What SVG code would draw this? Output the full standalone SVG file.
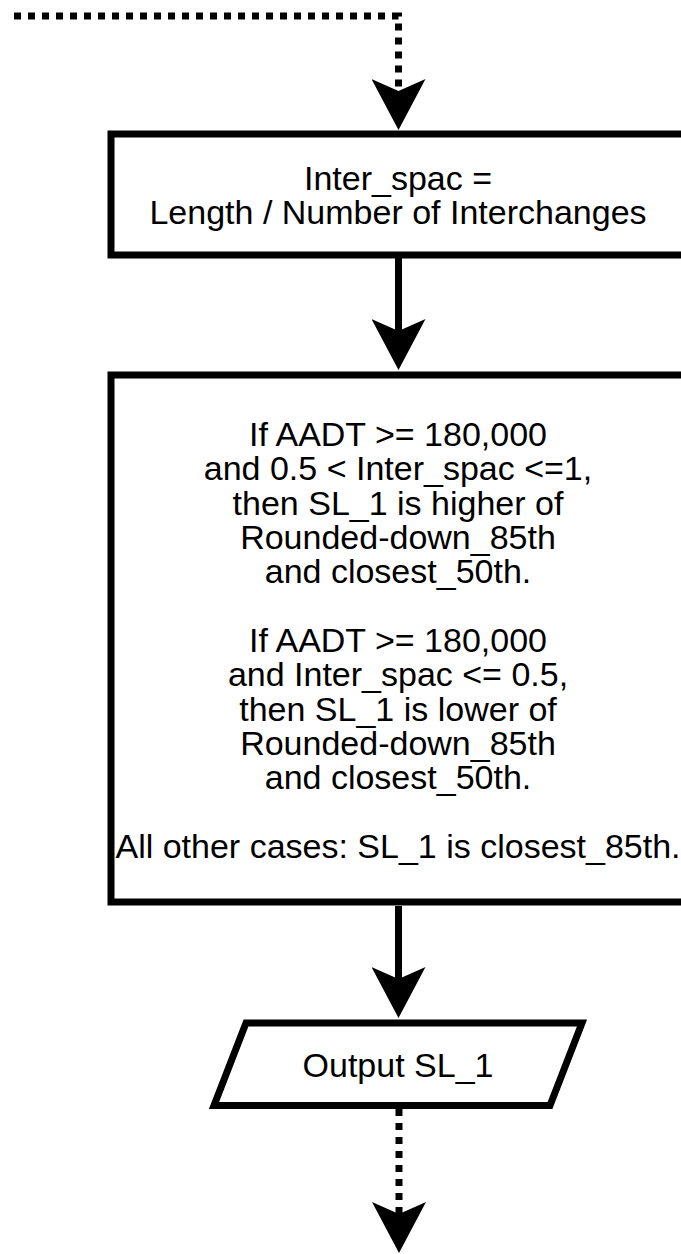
<svg xmlns="http://www.w3.org/2000/svg" width="681" height="1254" viewBox="0 0 681 1254">
<style>
.box{fill:#fff;stroke:#000;stroke-width:7}
.lbl{font-family:"Liberation Sans",Arial,sans-serif;font-size:34px;fill:#000;text-anchor:middle}
.solid{fill:none;stroke:#000;stroke-width:7}
.dot{fill:none;stroke:#000;stroke-width:7;stroke-dasharray:7 7}
</style>
<defs>
<marker id="arr" markerUnits="userSpaceOnUse" viewBox="0 0 51 54" markerWidth="51" markerHeight="54" refX="12" refY="27" orient="auto">
<path d="M0,0 L12,27 L0,54 L51,27 Z" fill="#000"/>
</marker>
</defs>
<rect width="681" height="1254" fill="#fff"/>
<g id="connectors">
<path class="dot" d="M14,16 H398.5 V91" marker-end="url(#arr)"/>
<path class="solid" d="M398.5,258 V331" marker-end="url(#arr)"/>
<path class="solid" d="M398.5,906 V979" marker-end="url(#arr)"/>
<path class="dot" d="M399,1109 V1214" marker-end="url(#arr)"/>
</g>
<g id="node-interspac">
<rect class="box" x="111" y="134" width="574" height="121"/>
<text class="lbl" x="398" y="189.5">Inter_spac =</text>
<text class="lbl" x="398" y="224">Length / Number of Interchanges</text>
</g>
<g id="node-rules">
<rect class="box" x="111" y="375" width="574" height="527"/>
<text class="lbl" x="398" y="446">If AADT &gt;= 180,000</text>
<text class="lbl" x="398" y="480.3">and 0.5 &lt; Inter_spac &lt;=1,</text>
<text class="lbl" x="398" y="514.7">then SL_1 is higher of</text>
<text class="lbl" x="398" y="549">Rounded-down_85th</text>
<text class="lbl" x="398" y="583.3">and closest_50th.</text>
<text class="lbl" x="398" y="652">If AADT &gt;= 180,000</text>
<text class="lbl" x="398" y="686.3">and Inter_spac &lt;= 0.5,</text>
<text class="lbl" x="398" y="720.7">then SL_1 is lower of</text>
<text class="lbl" x="398" y="755">Rounded-down_85th</text>
<text class="lbl" x="398" y="789.3">and closest_50th.</text>
<text class="lbl" x="398" y="858">All other cases: SL_1 is closest_85th.</text>
</g>
<g id="node-output">
<polygon class="box" points="246,1023 582,1023 550,1105.5 214,1105.5"/>
<text class="lbl" x="398" y="1077">Output SL_1</text>
</g>
</svg>
